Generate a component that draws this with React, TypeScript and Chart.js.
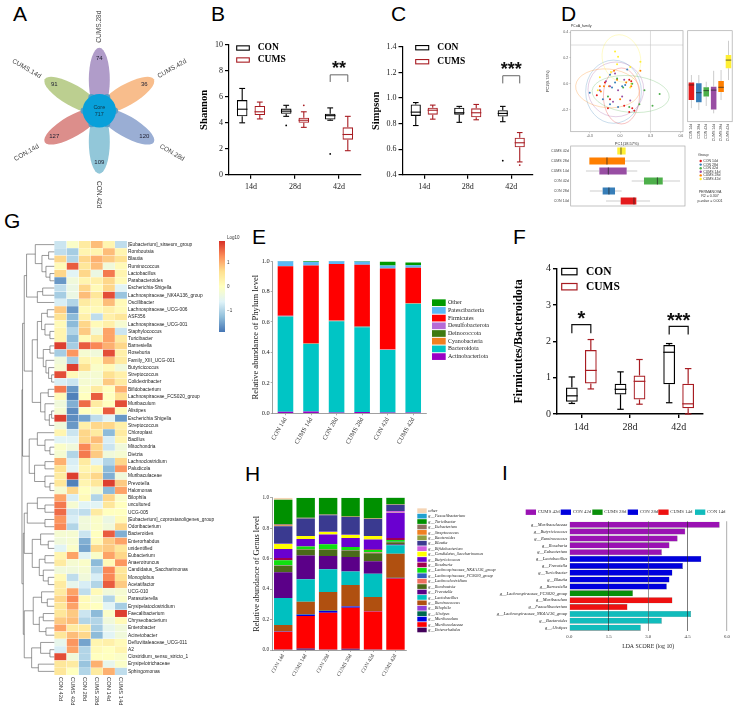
import React, { useEffect, useRef } from 'react';
import Chart from 'chart.js/auto';

/* ---------- data ---------- */
const flowerSets = ['CUMS.28d', 'CUMS.42d', 'CON.28d', 'CON.42d', 'CON.14d', 'CUMS.14d'];
const flowerCounts = [74, 36, 120, 109, 127, 91];
const flowerColors = ['#b09cc9', '#f8bd8c', '#9aaed4', '#92c7d9', '#dc8e8b', '#bccf90'];
const coreCount = 717;

const days = ['14d', '28d', '42d'];
const shannonCon = [[4.0, 4.5, 5.05, 5.75, 6.65], [4.5, 4.7, 4.9, 5.1, 5.35], [4.2, 4.25, 4.55, 4.7, 5.15]];
const shannonCums = [[4.3, 4.6, 4.85, 5.3, 5.6], [3.65, 4.0, 4.2, 4.4, 4.85], [1.85, 2.7, 3.1, 3.65, 4.5]];
const shannonOutCon = [[], [3.8], [1.6]];
const shannonOutCums = [[], [5.35], []];
const simpsonCon = [[.785, .86, .89, .95, .965], [.81, .87, .885, .925, .935], [.815, .855, .88, .905, .935]];
const simpsonCums = [[.835, .87, .905, .925, .945], [.83, .85, .885, .92, .95], [.5, .615, .65, .69, .73]];
const simpsonOutCon = [[], [], [.51]];
const simpsonOutCums = [[], [], [.475]];
const fbCon = [[.29, .34, .5, .73, 1.02], [.13, .54, .68, .83, 1.16], [.31, .82, 1.7, 1.9, 1.94]];
const fbCums = [[.69, .84, 1.2, 1.76, 2.05], [.27, .4, .9, 1.06, 1.5], [0, .16, .28, .83, 1.25]];

const sampleLabels = ['CON 14d', 'CUMS 14d', 'CON 28d', 'CUMS 28d', 'CON 42d', 'CUMS 42d'];
const phylumNames = ['Actinobacteriota', 'Bacteroidota', 'Cyanobacteria', 'Deinococcota', 'Desulfobacterota', 'Firmicutes', 'Patescibacteria', 'Other'];
const phylumColors = ['#9a00c4', '#00c5c5', '#f08020', '#3f7a10', '#b56bd6', '#ff0000', '#5bb8f5', '#009a00'];
const actinobacteriota = [.01, .012, .005, .008, .006, .006];
const bacteroidota = [.625, .443, .6, .557, .409, .714];
const cyanobacteria = [.002, .002, .002, .002, .002, .002];
const deinococcota = [.001, .001, .001, .001, .001, .001];
const desulfobacterota = [.002, .002, .002, .002, .002, .002];
const firmicutes = [.325, .51, .37, .405, .53, .23];
const patescibacteria = [.033, .025, .018, .022, .02, .017];
const otherPhyla = [.002, .005, .002, .003, .025, .018];
const phylumValues = [actinobacteriota, bacteroidota, cyanobacteria, deinococcota, desulfobacterota, firmicutes, patescibacteria, otherPhyla];

const genusNames = ['g__Enterorhabdus', 'g__Muribaculaceae', 'g__Muribaculum', 'g__Alistipes', 'g__Bilophila', 'g__Ruminococcus', 'g__Lactobacillus', 'g__Prevotella', 'g__Romboutsia', 'g__Lachnoclostridium', 'g__Lachnospiraceae_FCS020_group', 'g__Lachnospiraceae_NK4A136_group', 'g__Roseburia', 'g__Butyricicoccus', 'g__Candidatus_Saccharimonas', 'g__Bifidobacterium', 'g__Blautia', 'g__Bacteroides', 'g__Streptococcus', 'g__Eubacterium', 'g__Turicibacter', 'g__Faecalibacterium', 'other'];
const genusColors = ['#44005a', '#ff0000', '#0000e0', '#006a50', '#9040d8', '#b05010', '#00c0c0', '#5b0088', '#4a6a1a', '#f07060', '#3060c0', '#10e010', '#a00050', '#6a00d0', '#ffff00', '#d060e0', '#3a3a90', '#90a040', '#f08020', '#907060', '#009000', '#20a0d0', '#f5d5b5'];
const genusCon14 = [.004, .116, .001, .002, .001, .04, .177, .169, .044, .001, .001, .033, .015, .059, .033, .001, .116, .002, .002, .009, .16, .001, .013];
const genusCums14 = [.01, .213, .008, .003, .002, .081, .147, .157, .039, .001, .001, .018, .002, .047, .019, .001, .115, .001, .001, .002, .13, .001, .001];
const genusCon28 = [.004, .241, .011, .003, .001, .121, .149, .087, .043, .001, .001, .032, .001, .064, .016, .001, .108, .002, .001, .002, .11, .001, .001];
const genusCums28 = [.009, .269, .007, .003, .001, .138, .089, .094, .044, .001, .001, .02, .001, .058, .02, .001, .117, .001, .001, .002, .121, .001, .001];
const genusCon42 = [.004, .248, .002, .001, .001, .092, .153, .081, .053, .006, .001, .014, .006, .064, .022, .001, .111, .002, .001, .002, .133, .001, .001];
const genusCums42 = [.002, .468, .003, .001, .001, .157, .055, .006, .015, .001, .001, .012, .013, .167, .001, .01, .04, .004, .001, .001, .043, .001, .001];
const genusBars = [genusCon14, genusCums14, genusCon28, genusCums28, genusCon42, genusCums42];

const heatColumns = ['CON 42d', 'CUMS 42d', 'CON 28d', 'CUMS 28d', 'CON 14d', 'CUMS 14d'];
const heatGenera = ['[Eubacterium]_siraeum_group', 'Romboutsia', 'Blautia', 'Ruminococcus', 'Lactobacillus', 'Parabacteroides', 'Escherichia-Shigella', 'Lachnospiraceae_NK4A136_group', 'Oscillibacter', 'Lachnospiraceae_UCG-006', 'ASF356', 'Lachnospiraceae_UCG-001', 'Staphylococcus', 'Turicibacter', 'Barnesiella', 'Roseburia', 'Family_XIII_UCG-001', 'Butyricicoccus', 'Streptococcus', 'Colidextribacter', 'Bifidobacterium', 'Lachnospiraceae_FCS020_group', 'Muribaculum', 'Alistipes', 'Escherichia Shigella', 'Streptococcus', 'Chloroplast', 'Bacillus', 'Mitochondria', 'Dietzia', 'Lachnoclostridium', 'Paludicola', 'Muribaculaceae', 'Prevotella', 'Halomonas', 'Bilophila', 'uncultured', 'UCG-005', '[Eubacterium]_coprostanoligenes_group', 'Odoribacterium', 'Bacteroides', 'Enterorhabdus', 'unidentified', 'Eubacterium', 'Anaerotruncus', 'Candidatus_Saccharimonas', 'Monoglobus', 'Acetatifactor', 'UCG-010', 'Parasutterella', 'Erysipelatoclostridium', 'Faecalibacterium', 'Chryseobacterium', 'Enterobacter', 'Acinetobacter', 'Defluviitaleaceae_UCG-011', 'A2', 'Clostridium_sensu_stricto_1', 'Erysipelotrichaceae', 'Sphingomonas'];
const heatValues = [
  [-.8, -.1, .4, .9, .2, -.9], [-.9, -1.1, .2, .2, .9, .2], [.7, -1.0, .7, 1.0, .8, .6], [.1, 1.6, .5, .9, -.3, .1],
  [.7, -.6, .7, -.4, 1.4, .2], [-1.6, -.3, .2, .3, .7, .1], [-.9, -.4, .7, .1, .7, -.6], [-1.1, -.4, .9, .5, 1.7, -1.2],
  [-.7, -1.0, .4, .2, .9, .1], [.8, -1.6, .1, .1, .3, .1], [.6, -1.3, .3, -.9, .3, .5], [.1, -1.3, .7, .1, .3, -.2],
  [.2, -1.0, .8, -.3, 1.1, -.8], [.2, -1.3, .1, .4, 1.1, .4], [1.8, -1.1, 1.6, 1.3, 1.0, .7], [-1.1, 1.2, -.2, -.3, 1.7, .3],
  [-.3, -1.1, .2, .1, .9, .4], [-.2, 1.8, .6, -.1, .1, -.3], [1.7, .1, -.2, -.2, .6, .3], [-.7, -.8, -.2, -.2, .8, .4],
  [1.4, -1.6, -.1, .4, 0, 1.0], [.1, -1.8, 0, 1.6, 0, .6], [-.3, -1.4, 1.5, .4, 0, 1.7], [-.2, -1.7, 0, 0, 1.6, .1],
  [1.8, -1.7, -1.5, -.9, -.6, -1.6], [-.3, -1.6, .3, .7, .7, .3], [.2, -.8, .7, .4, -1.3, .4], [-.6, -.6, .7, .9, -.7, .2],
  [-.1, -.3, 1.3, .7, -.8, -.3], [-.2, -1, 1.4, .8, -.3, -.2], [1.0, -.7, .4, -.6, -1.0, .7], [.6, -.6, .2, .2, -1.3, 1.2],
  [.4, 1.8, .4, .7, -1.4, -.3], [.5, -1.8, .2, .5, 1.8, .8], [-.2, .7, 0, -.2, -1.3, 1.1], [1.1, -.7, .1, -1.0, .7, -.1],
  [1.4, -.2, -.6, -.6, .5, 0], [1.5, -.8, -.9, .4, 0, 0], [1.2, -.7, -.3, -.1, -.4, .1], [1.3, -1.0, -.3, -.1, -.3, .7],
  [-.2, -.2, -.8, 0, 1.6, -1.4], [-.3, -.2, -1.4, .1, .8, 1.1], [-.6, -.1, -1.5, .7, .8, .5], [.2, 1.1, -.6, -.1, 1.1, .7],
  [.4, -.2, -.1, -1.3, .1, 1.2], [-.3, -.3, -.2, -1.0, 1.3, .5], [.1, -.9, -.3, -.7, 1.3, .6], [.4, -.5, -.7, -1.0, 1.6, .8],
  [.4, 1.1, -.9, .1, -.3, -.2], [.7, 1.3, .1, -.2, -1.0, -.1], [.5, 1.1, .1, 0, -.6, -1.1], [.5, .8, -.8, -1.3, -.1, 1.8],
  [.8, .9, -1, -1, -.3, .1], [1.1, .4, .4, -1.1, -.5, -.3], [.5, .9, .7, -1.3, -.6, -.3], [-.5, 1.2, -1.5, .2, .3, .1],
  [-.7, 1.1, -1.0, .1, 0, .2], [1.7, -.3, -1, 0, 0, -.1], [.5, .4, -1.2, 1.0, -.5, -.1], [.5, 0, -1.0, .4, 1.0, -.9],
];
const heatStops = ['#4575b4', '#91bfdb', '#e0f3f8', '#ffffbf', '#fee090', '#fc8d59', '#d73027'];
const heatLimit = 1.9;
// merge tree: [height, left, right]; a number is a row index (1-based)
type Tree = number | [number, Tree, Tree];
const treeTop1: Tree = [2.29, [1.57, 1, [1.02, [.47, 2, 3], [.69, 4, [.36, 5, 6]]]], [1.4, [.96, 7, 8], 9]];
const treeTop2: Tree = [1.82,
  [1.4, [1.05, [.58, 10, 11], [.77, 12, [.36, 13, 14]]], [.91, [.36, 15, 16], [.69, 17, [.47, 18, [.22, 19, 20]]]]],
  [1.13, [.5, 21, 22], [.77, 23, [.41, [.22, 24, 25], 26]]]];
const treeTop3: Tree = [2.07, [1.4, 27, [.77, 28, [.36, 29, 30]]], [1.63, [.77, 31, 32], [.77, 33, [.36, 34, 35]]]];
const treeLow1: Tree = [2.23, [1.4, 36, [.77, 37, 38]], [.77, 39, 40]];
const treeLow2: Tree = [1.82, [1.13, 41, [.5, 42, 43]], [1.24, [.77, 44, 45], [.91, 46, [.5, 47, 48]]]];
const treeLow3: Tree = [2.48, [1.74, [1.05, 49, [.58, 50, 51]], [1.24, [.91, 52, 53], [.69, 54, 55]]], [1.87, [1.13, 56, [.36, 57, 58]], [1.32, 59, 60]]];
const heatTree: Tree = [2.67, [2.62, [2.48, treeTop1, treeTop2], treeTop3], [2.56, [2.48, treeLow1, treeLow2], treeLow3]];

const pcoaGroups = ['CON 14d', 'CON 28d', 'CON 42d', 'CUMS 14d', 'CUMS 28d', 'CUMS 42d'];
const pcoaColors = ['#e41a1c', '#377eb8', '#4daf4a', '#984ea3', '#ff7f00', '#ffef33'];
const pcoaCon14 = [[.09, .03], [.11, .02], [-.23, -.09], [-.1, -.12], [.04, -.17], [.12, -.19], [.09, -.22], [.14, -.21], [-.12, -.19], [-.15, .01]];
const pcoaCon28 = [[-.3, -.07], [-.1, .07], [.07, .11], [-.08, -.03], [.02, -.02], [-.05, .01], [-.17, -.12], [-.1, -.16], [-.02, -.18], [.05, -.01]];
const pcoaCon42 = [[.39, -.08], [.32, -.17], [.24, -.05], [.19, -.16], [.03, -.03], [-.12, -.1], [.12, 0], [.09, -.18], [-.03, .04]];
const pcoaCums14 = [[-.14, .02], [-.02, -.05], [-.05, .08], [.02, -.1], [-.2, -.05], [-.07, -.14], [.04, .03], [-.1, -.02], [.1, -.13]];
const pcoaCums28 = [[-.2, -.02], [-.19, -.06], [-.16, -.02], [-.11, -.02], [-.03, .03], [.06, .01], [.11, -.02], [.2, .1], [-.06, .1], [0, -.12]];
const pcoaCums42 = [[-.05, .25], [-.02, .21], [-.03, .15], [-.2, .05], [-.09, .09], [.1, .13], [.2, .17], [-.22, -.05], [.1, -.03], [.11, 0]];
const pcoaPoints = [pcoaCon14, pcoaCon28, pcoaCon42, pcoaCums14, pcoaCums28, pcoaCums42];
// centre x, centre y, radius x, radius y, tilt
const pcoaEllipses = [[.013, -.095, .178, .217, 0], [-.065, -.062, .275, .245, 0], [.104, -.08, .382, .142, 5], [-.042, -.044, .275, .212, 0], [-.123, -.036, .317, .15, 5], [.013, .196, .188, .186, -15]];
const pc2Box = [[-.19, -.127, -.01, .01, .067], [-.204, -.145, -.07, .003, .067], [-.173, -.10, -.054, -.028, .015], [-.23, -.2, -.05, -.023, .10], [-.127, -.065, -.028, .02, .106], [.028, .119, .183, .222, .333]];
const pc1Box = [[-.145, -.003, .126, .149, .282], [-.302, -.178, -.117, -.058, .006], [.104, .223, .353, .405, .573], [-.34, -.21, -.123, .055, .158], [-.307, -.307, -.136, .039, .282], [-.036, -.036, 0, .045, .045]];
const permanovaLines = ['PERMANOVA', 'R2 = 0.307', 'p-value = 0.001'];

const ldaGenera = ['g__Muribaculaceae', 'g__Butyricicoccus', 'g__Ruminococcus', 'g__Roseburia', 'g__Eubacterium', 'g__Lactobacillus', 'g__Prevotella', 'g__Turicibacter', 'g__Blautia', 'g__Barnesiella', 'g__Lachnospiraceae_FCS020_group', 'g__Muribaculum', 'g__Faecalibacterium', 'g__Lachnospiraceae_NK4A136_group', 'g__Bacteroides', 'g__Alistipes'];
const ldaScores = [5.72, 4.41, 4.12, 3.81, 3.52, 5.02, 4.32, 3.92, 3.81, 3.71, 2.42, 3.92, 2.21, 4.63, 3.52, 2.72];
const ldaGroup = [0, 0, 0, 0, 0, 1, 1, 1, 1, 1, 2, 4, 4, 5, 5, 5];
const ldaGroupNames = ['CUMS 42d', 'CON 42d', 'CUMS 28d', 'CON 28d', 'CUMS 14d', 'CON 14d'];
const ldaGroupColors = ['#9a12b3', '#0000dd', '#0a8f0a', '#0000dd', '#ee1111', '#11bcbc'];

/* ---------- helpers ---------- */
const SERIF = '"Liberation Serif"';
const SANS = '"Liberation Sans"';
const DARKRED = '#a81c22';
const noGrid = { display: false, drawTicks: false };

type Rect = { l: number; t: number; r: number; b: number };
function txt(ctx: any, s: string, x: number, y: number, font: string, color = '#000', align = 'left', rot = 0) {
  ctx.save();
  ctx.translate(x, y);
  ctx.rotate((rot * Math.PI) / 180);
  ctx.font = font;
  ctx.fillStyle = color;
  ctx.textAlign = align;
  ctx.textBaseline = 'middle';
  ctx.fillText(s, 0, 0);
  ctx.restore();
}
const fitW = (w: number) => (s: any) => { s.width = w; };
const fitH = (h: number) => (s: any) => { s.height = h; };
const baseOpts = (frame: Rect, plot: Rect, pad: any) => ({
  responsive: false,
  maintainAspectRatio: false,
  animation: false,
  events: [],
  layout: { padding: { left: pad.left ? plot.l - frame.l : 0, right: pad.right ? frame.r - plot.r : 0, top: plot.t - frame.t, bottom: pad.bottom ? frame.b - plot.b : 0 } },
  plugins: { legend: { display: false }, tooltip: { enabled: false } },
});
const f = (size: number, family: string, extra: any = {}) => ({ size, family, ...extra });

function hexMix(a: string, b: string, t: number) {
  const p = (h: string, i: number) => parseInt(h.slice(i, i + 2), 16);
  const c = [1, 3, 5].map((i) => Math.round(p(a, i) + (p(b, i) - p(a, i)) * t));
  return `rgb(${c[0]},${c[1]},${c[2]})`;
}
function heatColor(v: number) {
  const u = ((Math.max(-heatLimit, Math.min(heatLimit, v)) + heatLimit) / (2 * heatLimit)) * (heatStops.length - 1);
  const i = Math.min(heatStops.length - 2, Math.floor(u));
  return hexMix(heatStops[i], heatStops[i + 1], u - i);
}

/* draws whiskers, medians and outliers on top of floating bars */
function whiskerPlugin(stats: number[][][], outliers: number[][][] | null, colors: (d: number, i: number) => string, opts: any = {}) {
  const horizontal = !!opts.horizontal;
  const lw = opts.lw ?? 1.2;
  return {
    id: 'whiskers',
    afterDatasetsDraw(chart: any) {
      const ctx = chart.ctx;
      const val = horizontal ? chart.scales.x : chart.scales.y;
      stats.forEach((rows, d) => {
        const meta = chart.getDatasetMeta(d);
        rows.forEach((st, i) => {
          const bar = meta.data[i];
          const c = horizontal ? bar.y : bar.x;
          const half = (horizontal ? bar.height : bar.width) / 2;
          const cap = half * (opts.cap ?? 0.55);
          ctx.save();
          ctx.strokeStyle = colors(d, i);
          ctx.lineWidth = lw;
          const seg = (v1: number, w1: number, v2: number, w2: number) => {
            ctx.beginPath();
            if (horizontal) { ctx.moveTo(val.getPixelForValue(v1), c + w1); ctx.lineTo(val.getPixelForValue(v2), c + w2); }
            else { ctx.moveTo(c + w1, val.getPixelForValue(v1)); ctx.lineTo(c + w2, val.getPixelForValue(v2)); }
            ctx.stroke();
          };
          seg(st[0], 0, st[1], 0);
          seg(st[3], 0, st[4], 0);
          if (cap > 0) { seg(st[0], -cap, st[0], cap); seg(st[4], -cap, st[4], cap); }
          ctx.strokeStyle = opts.median ?? colors(d, i);
          ctx.lineWidth = opts.medianWidth ?? lw;
          seg(st[2], -half, st[2], half);
          if (outliers) {
            ctx.fillStyle = colors(d, i);
            outliers[d][i].forEach((o) => {
              ctx.beginPath();
              ctx.arc(c, val.getPixelForValue(o), 0.9, 0, Math.PI * 2);
              ctx.fill();
            });
          }
          ctx.restore();
        });
      });
    },
  };
}

/* two-group box chart used by panels B, C and F */
function groupBox(frame: Rect, plot: Rect, o: any) {
  const fl = (rows: number[][]) => rows.map((s) => [s[1], s[3]]);
  const colour = (d: number) => (d === 0 ? '#000' : DARKRED);
  const overlay = {
    id: 'overlay',
    afterDraw(chart: any) {
      const ctx = chart.ctx;
      const y = chart.scales.y;
      const ox = frame.l;
      const oy = frame.t;
      const L = o.legend;
      ['CON', 'CUMS'].forEach((name, k) => {
        ctx.strokeStyle = colour(k);
        ctx.lineWidth = o.lw;
        ctx.strokeRect(L.x - ox, L.ys[k] - L.h / 2 - oy, L.w, L.h);
        txt(ctx, name, L.tx - ox, L.ys[k] - oy, `bold ${L.font}px ${SERIF}`);
      });
      o.brackets.forEach((b: any) => {
        const x1 = chart.getDatasetMeta(0).data[b.cat].x;
        const x2 = chart.getDatasetMeta(1).data[b.cat].x;
        ctx.strokeStyle = b.color;
        ctx.lineWidth = b.lw;
        ctx.beginPath();
        ctx.moveTo(x1, y.getPixelForValue(b.leg));
        ctx.lineTo(x1, y.getPixelForValue(b.top));
        ctx.lineTo(x2, y.getPixelForValue(b.top));
        ctx.lineTo(x2, y.getPixelForValue(b.leg));
        ctx.stroke();
        txt(ctx, b.stars, (x1 + x2) / 2, y.getPixelForValue(b.star) + b.size * 0.2, `bold ${b.size}px ${SANS}`, '#111', 'center');
      });
    },
  };
  return {
    type: 'bar',
    data: {
      labels: days,
      datasets: [
        { label: 'CON', data: fl(o.con), borderColor: '#000', backgroundColor: 'rgba(0,0,0,0)', borderWidth: o.lw, borderSkipped: false, categoryPercentage: o.catPct, barPercentage: o.barPct },
        { label: 'CUMS', data: fl(o.cums), borderColor: DARKRED, backgroundColor: 'rgba(0,0,0,0)', borderWidth: o.lw, borderSkipped: false, categoryPercentage: o.catPct, barPercentage: o.barPct },
      ],
    },
    options: {
      ...baseOpts(frame, plot, { right: true }),
      scales: {
        x: {
          afterFit: fitH(frame.b - plot.b),
          grid: { drawOnChartArea: false, offset: false, tickLength: o.tick, color: '#000', lineWidth: o.axisW },
          border: { color: '#000', width: o.axisW },
          ticks: { font: f(o.tickFont, SERIF), color: '#222', padding: o.xPad ?? 3 },
        },
        y: {
          min: o.min, max: o.max,
          afterFit: fitW(plot.l - frame.l),
          grid: { drawOnChartArea: false, tickLength: o.tick, color: '#000', lineWidth: o.axisW },
          border: { color: '#000', width: o.axisW },
          ticks: { stepSize: o.step, font: f(o.tickFont, SERIF), color: '#222', padding: 2, callback: o.fmt },
          title: { display: true, text: o.title, font: f(o.titleFont, SERIF, { weight: 'bold' }), color: '#000', padding: 0 },
        },
      },
    },
    plugins: [whiskerPlugin([o.con, o.cums], o.outCon ? [o.outCon, o.outCums] : null, colour, { lw: o.lw }), overlay],
  };
}

function stackBar(frame: Rect, plot: Rect, o: any) {
  const legend = {
    id: 'sideLegend',
    afterDraw(chart: any) {
      const ctx = chart.ctx;
      const n = o.names.length;
      o.names.forEach((name: string, i: number) => {
        const rowY = o.legY + (n - 1 - i) * o.legStep - frame.t;
        ctx.fillStyle = o.colors[i];
        ctx.fillRect(o.legX - frame.l, rowY - o.swH / 2, o.swW, o.swH);
        txt(ctx, name, o.legTx - frame.l, rowY, o.legFont, '#222');
      });
    },
  };
  return {
    type: 'bar',
    data: {
      labels: sampleLabels,
      datasets: o.names.map((name: string, i: number) => ({
        label: name, data: o.values[i], backgroundColor: o.colors[i], borderWidth: 0, categoryPercentage: 1, barPercentage: o.barPct,
      })),
    },
    options: {
      ...baseOpts(frame, plot, { right: true }),
      scales: {
        x: {
          stacked: true,
          afterFit: fitH(frame.b - plot.b),
          grid: { drawOnChartArea: false, offset: false, tickLength: 2, color: '#777', lineWidth: .6 },
          border: { color: '#777', width: .7 },
          ticks: { font: f(o.xFont, SERIF), color: '#333', minRotation: 60, maxRotation: 60, autoSkip: false, padding: 1 },
        },
        y: {
          stacked: true, min: 0, max: 1,
          afterFit: fitW(plot.l - frame.l),
          grid: { drawOnChartArea: false, tickLength: 2, color: '#777', lineWidth: .6 },
          border: { color: '#777', width: .7 },
          ticks: { stepSize: .2, font: f(o.yFont, SERIF), color: '#222', padding: 1, callback: (v: any) => Number(v).toFixed(1) },
          title: { display: true, text: o.title, font: f(o.titleFont, SERIF), color: '#111', padding: 0 },
        },
      },
    },
    plugins: [legend],
  };
}

/* ---------- panels ---------- */
function flowerPanel() {
  const frame = { l: 0, t: 0, r: 205, b: 210 };
  const petalReach = 31;
  const angle = (i: number) => (i * 60 * Math.PI) / 180;
  const plugin = {
    id: 'flower',
    beforeDatasetsDraw(chart: any) {
      const { ctx, scales: { x, y } } = chart;
      const X = (v: number) => x.getPixelForValue(v);
      const Y = (v: number) => y.getPixelForValue(v);
      flowerSets.forEach((_, i) => {
        const a = angle(i);
        ctx.save();
        ctx.translate(X(petalReach * Math.sin(a)), Y(petalReach * Math.cos(a)));
        ctx.rotate(a);
        ctx.fillStyle = flowerColors[i];
        ctx.beginPath();
        ctx.ellipse(0, 0, 10.5, petalReach + 1, 0, 0, Math.PI * 2);
        ctx.fill();
        ctx.restore();
      });
      flowerSets.forEach((_, i) => {
        const a = angle(i) + Math.PI / 6;
        ctx.fillStyle = '#5a9cc4';
        ctx.beginPath();
        ctx.arc(X(15.5 * Math.sin(a)), Y(15.5 * Math.cos(a)), 3.2, 0, Math.PI * 2);
        ctx.fill();
      });
      ctx.fillStyle = '#08a0da';
      ctx.beginPath();
      ctx.arc(X(0), Y(0), 16.7, 0, Math.PI * 2);
      ctx.fill();
    },
    afterDraw(chart: any) {
      const { ctx, scales: { x, y } } = chart;
      const X = (v: number) => x.getPixelForValue(v);
      const Y = (v: number) => y.getPixelForValue(v);
      flowerSets.forEach((name, i) => {
        const a = angle(i);
        txt(ctx, String(flowerCounts[i]), X(52 * Math.sin(a)), Y(52 * Math.cos(a)), `6px ${SANS}`, '#223', 'center');
        const rot = [-90, -30, 30, 90, -30, 30][i];
        txt(ctx, name, X(84 * Math.sin(a)), Y(84 * Math.cos(a)), `6.6px ${SANS}`, '#444', 'center', rot);
      });
      txt(ctx, 'Core', X(0), Y(3.5), `5.4px ${SANS}`, '#134', 'center');
      txt(ctx, String(coreCount), X(0), Y(-3.5), `5.4px ${SANS}`, '#134', 'center');
    },
  };
  return {
    frame,
    config: {
      type: 'scatter',
      data: { datasets: [{ data: flowerCounts.map((_, i) => ({ x: 52 * Math.sin(angle(i)), y: 52 * Math.cos(angle(i)) })), pointRadius: 0 }] },
      options: {
        ...baseOpts(frame, frame, {}),
        scales: { x: { display: false, min: -99.3, max: 105.7 }, y: { display: false, min: -99.3, max: 110.7 } },
      },
      plugins: [plugin],
    },
  };
}

function heatPanel() {
  const frame = { l: 20, t: 233, r: 218, b: 709 };
  const plot = { l: 21.6, t: 241, r: 127, b: 675 };
  const plugin = {
    id: 'dendro',
    afterDraw(chart: any) {
      const { ctx, scales: { x, y } } = chart;
      ctx.strokeStyle = '#555';
      ctx.lineWidth = .6;
      const walk = (n: Tree): [number, number] => {
        if (typeof n === 'number') return [0, y.getPixelForValue(n - 1)];
        const [hA, yA] = walk(n[1]);
        const [hB, yB] = walk(n[2]);
        const h = n[0];
        ctx.beginPath();
        ctx.moveTo(x.getPixelForValue(-hA), yA);
        ctx.lineTo(x.getPixelForValue(-h), yA);
        ctx.lineTo(x.getPixelForValue(-h), yB);
        ctx.lineTo(x.getPixelForValue(-hB), yB);
        ctx.stroke();
        return [h, (yA + yB) / 2];
      };
      walk(heatTree);
      heatColumns.forEach((name, i) => {
        ctx.save();
        ctx.translate(x.getPixelForValue(i + .5), plot.b + 2 - frame.t);
        ctx.rotate(Math.PI / 2);
        ctx.font = `5.8px ${SANS}`;
        ctx.fillStyle = '#333';
        ctx.textAlign = 'left';
        ctx.textBaseline = 'middle';
        ctx.fillText(name, 0, 0);
        ctx.restore();
      });
    },
  };
  return {
    frame,
    config: {
      type: 'bar',
      data: {
        labels: heatGenera,
        datasets: heatColumns.map((name, c) => ({
          label: name,
          data: heatGenera.map(() => 1),
          backgroundColor: heatValues.map((row) => heatColor(row[c])),
          borderColor: 'rgba(255,255,255,.55)',
          borderWidth: .4,
          borderSkipped: false,
          categoryPercentage: 1,
          barPercentage: 1,
        })),
      },
      options: {
        ...baseOpts(frame, plot, { left: true, bottom: true }),
        indexAxis: 'y',
        scales: {
          x: { stacked: true, display: false, min: -2.7, max: 6 },
          y: {
            stacked: true, position: 'right',
            afterFit: fitW(frame.r - plot.r),
            grid: noGrid, border: { display: false },
            ticks: { autoSkip: false, font: f(4.8, SANS), color: '#222', padding: 1 },
          },
        },
      },
      plugins: [plugin],
    },
  };
}

function colourBarPanel() {
  const frame = { l: 215, t: 232, r: 245, b: 338 };
  const plot = { l: 219, t: 241, r: 225, b: 332 };
  const plugin = { id: 'barTitle', afterDraw(c: any) { txt(c.ctx, 'Log10', 227 - frame.l, 238 - frame.t, `4.5px ${SANS}`, '#333'); } };
  return {
    frame,
    config: {
      type: 'bar',
      data: {
        labels: ['Log10'],
        datasets: [{
          data: [[-heatLimit, heatLimit]],
          categoryPercentage: 1, barPercentage: 1, borderWidth: 0,
          backgroundColor: (ctx: any) => {
            const area = ctx.chart.chartArea;
            if (!area) return heatStops[3];
            const g = ctx.chart.ctx.createLinearGradient(0, area.bottom, 0, area.top);
            heatStops.forEach((c, i) => g.addColorStop(i / (heatStops.length - 1), c));
            return g;
          },
        }],
      },
      options: {
        ...baseOpts(frame, plot, { left: true, bottom: true }),
        scales: {
          x: { display: false },
          y: {
            position: 'right', min: -heatLimit, max: heatLimit,
            afterFit: fitW(frame.r - plot.r),
            afterBuildTicks: (s: any) => { s.ticks = [1, 0, -1].map((value) => ({ value })); },
            grid: noGrid, border: { display: false },
            ticks: { font: f(4.5, SANS), color: '#333', padding: 2, callback: (v: any) => (v < 0 ? '\u2212' + Math.abs(v) : String(v)) },
          },
        },
      },
      plugins: [plugin],
    },
  };
}

function pcoaPanel() {
  const frame = { l: 545, t: 20, r: 687, b: 146 };
  const plot = { l: 570.7, t: 30.7, r: 685, b: 131.7 };
  const plugin = {
    id: 'pcoaDecor',
    beforeDatasetsDraw(chart: any) {
      const { ctx, chartArea: a, scales: { x, y } } = chart;
      ctx.save();
      ctx.beginPath();
      ctx.rect(a.left, a.top, a.width, a.height);
      ctx.clip();
      ctx.strokeStyle = '#c8c8c8';
      ctx.lineWidth = .6;
      ctx.beginPath();
      ctx.moveTo(x.getPixelForValue(.3), a.top); ctx.lineTo(x.getPixelForValue(.3), a.bottom);
      ctx.moveTo(a.left, y.getPixelForValue(.3)); ctx.lineTo(a.right, y.getPixelForValue(.3));
      ctx.stroke();
      pcoaEllipses.forEach((e, i) => {
        ctx.strokeStyle = pcoaColors[i];
        ctx.globalAlpha = .45;
        ctx.lineWidth = .6;
        ctx.beginPath();
        ctx.ellipse(x.getPixelForValue(e[0]), y.getPixelForValue(e[1]), x.getPixelForValue(e[2]) - x.getPixelForValue(0), y.getPixelForValue(0) - y.getPixelForValue(e[3]), (e[4] * Math.PI) / 180, 0, Math.PI * 2);
        ctx.stroke();
      });
      ctx.restore();
      ctx.strokeStyle = '#aaa';
      ctx.lineWidth = .7;
      ctx.strokeRect(a.left, a.top, a.width, a.height);
      txt(ctx, 'PCoA_family', a.left + 0, a.top - 5, `3.6px ${SANS}`, '#333');
    },
  };
  return {
    frame,
    config: {
      type: 'scatter',
      data: {
        datasets: pcoaGroups.map((name, i) => ({
          label: name,
          data: pcoaPoints[i].map((p) => ({ x: p[0], y: p[1] })),
          backgroundColor: pcoaColors[i],
          borderWidth: 0,
          pointRadius: 1,
        })),
      },
      options: {
        ...baseOpts(frame, plot, { right: true }),
        scales: {
          x: {
            min: -.488, max: .621,
            afterFit: fitH(frame.b - plot.b),
            afterBuildTicks: (s: any) => { s.ticks = [-.3, 0, .3, .6].map((value) => ({ value })); },
            grid: { drawOnChartArea: false, tickLength: 1.5, color: '#999', lineWidth: .4 },
            border: { display: false },
            ticks: { font: f(3.6, SANS), color: '#555', padding: 1, callback: (v: any) => Number(v).toFixed(1) },
            title: { display: true, text: 'PC1(18.57%)', font: f(4, SANS), color: '#333', padding: 0 },
          },
          y: {
            min: -.372, max: .411,
            afterFit: fitW(plot.l - frame.l),
            afterBuildTicks: (s: any) => { s.ticks = [-.2, 0, .2, .4].map((value) => ({ value })); },
            grid: { drawOnChartArea: false, tickLength: 1.5, color: '#999', lineWidth: .4 },
            border: { display: false },
            ticks: { font: f(3.6, SANS), color: '#555', padding: 1, callback: (v: any) => Number(v).toFixed(1) },
            title: { display: true, text: 'PC2(9.74%)', font: f(4, SANS), color: '#333', padding: 0 },
          },
        },
      },
      plugins: [plugin],
    },
  };
}

const framePlugin = {
  id: 'boxFrame',
  beforeDatasetsDraw(chart: any) {
    const { ctx, chartArea: a } = chart;
    ctx.strokeStyle = '#aaa';
    ctx.lineWidth = .7;
    ctx.strokeRect(a.left, a.top, a.width, a.height);
  },
};

function pc2Panel() {
  const frame = { l: 686, t: 22, r: 735, b: 142 };
  const plot = { l: 687.7, t: 30.7, r: 732.7, b: 121.7 };
  return {
    frame,
    config: {
      type: 'bar',
      data: {
        labels: pcoaGroups,
        datasets: [{ data: pc2Box.map((s) => [s[1], s[3]]), backgroundColor: pcoaColors, borderWidth: 0, categoryPercentage: 1, barPercentage: .75 }],
      },
      options: {
        ...baseOpts(frame, plot, { left: true, right: true }),
        scales: {
          x: {
            afterFit: fitH(frame.b - plot.b),
            grid: noGrid, border: { display: false },
            ticks: { font: f(3.6, SANS), color: '#444', minRotation: 90, maxRotation: 90, autoSkip: false, padding: 2 },
          },
          y: { display: false, min: -.295, max: .411 },
        },
      },
      plugins: [framePlugin, whiskerPlugin([pc2Box], null, () => '#999', { lw: .5, cap: 0, median: '#222', medianWidth: .7 })],
    },
  };
}

function pc1Panel() {
  const frame = { l: 540, t: 140, r: 735, b: 212 };
  const plot = { l: 570.7, t: 146, r: 685, b: 206 };
  const order = [5, 4, 3, 2, 1, 0];
  const legend = {
    id: 'groupLegend',
    afterDraw(chart: any) {
      const ctx = chart.ctx;
      const ox = frame.l;
      const oy = frame.t;
      txt(ctx, 'Group', 698 - ox, 155 - oy, `3.8px ${SANS}`, '#333');
      pcoaGroups.forEach((name, i) => {
        const yy = 161 + i * 3.6 - oy;
        ctx.fillStyle = pcoaColors[i];
        ctx.beginPath();
        ctx.arc(700.7 - ox, yy, 1.2, 0, Math.PI * 2);
        ctx.fill();
        txt(ctx, name, 703.3 - ox, yy, `3.5px ${SANS}`, '#333');
      });
      permanovaLines.forEach((line, i) => txt(ctx, line, 710 - ox, 191.7 + i * 4.6 - oy, `3.6px ${SANS}`, '#333', 'center'));
    },
  };
  return {
    frame,
    config: {
      type: 'bar',
      data: {
        labels: order.map((i) => pcoaGroups[i]),
        datasets: [{ data: order.map((i) => [pc1Box[i][1], pc1Box[i][3]]), backgroundColor: order.map((i) => pcoaColors[i]), borderWidth: 0, categoryPercentage: 1, barPercentage: .72 }],
      },
      options: {
        ...baseOpts(frame, plot, { right: true, bottom: true }),
        indexAxis: 'y',
        scales: {
          x: { display: false, min: -.488, max: .621 },
          y: {
            afterFit: fitW(plot.l - frame.l),
            grid: noGrid, border: { display: false },
            ticks: { font: f(3.6, SANS), color: '#444', autoSkip: false, padding: 2 },
          },
        },
      },
      plugins: [framePlugin, whiskerPlugin([order.map((i) => pc1Box[i])], null, () => '#999', { lw: .5, cap: 0, median: '#222', medianWidth: .7, horizontal: true }), legend],
    },
  };
}

function ldaPanel() {
  const frame = { l: 490, t: 505, r: 735, b: 650 };
  const plot = { l: 569.3, t: 521.3, r: 727, b: 631.1 };
  const swatches = [[525.7, 538], [560.7, 573], [592.3, 605], [627.7, 639], [658.3, 670.7], [695, 707]];
  const legend = {
    id: 'ldaLegend',
    afterDraw(chart: any) {
      const ctx = chart.ctx;
      ldaGroupNames.forEach((name, i) => {
        ctx.fillStyle = ldaGroupColors[i];
        ctx.fillRect(swatches[i][0] - frame.l, 512.2 - 2.7 - frame.t, 10.3, 5.4);
        txt(ctx, name, swatches[i][0] + 12 - frame.l, 512 - frame.t, `4.8px ${SERIF}`, '#333');
      });
    },
  };
  return {
    frame,
    config: {
      type: 'bar',
      data: {
        labels: ldaGenera,
        datasets: [{
          data: ldaScores,
          backgroundColor: ldaGroup.map((g) => ldaGroupColors[g]),
          borderColor: '#222', borderWidth: .3, borderSkipped: false, categoryPercentage: 1, barPercentage: .87,
        }],
      },
      options: {
        ...baseOpts(frame, plot, { right: true }),
        indexAxis: 'y',
        scales: {
          x: {
            min: 0, max: 6,
            afterFit: fitH(frame.b - plot.b),
            grid: {
              z: 1, drawTicks: false,
              color: (c: any) => { const v = c.tick ? c.tick.value : 0; return v === 1.5 || v === 4.5 ? '#222' : v === 0 ? 'rgba(0,0,0,0)' : v === 3 ? '#555' : '#bbb'; },
              lineWidth: (c: any) => (c.tick && c.tick.value === 6 ? 1.2 : .6),
            },
            border: { display: false },
            ticks: { stepSize: 1.5, font: f(4.8, SERIF), color: '#333', padding: 3, callback: (v: any) => Number(v).toFixed(1) },
            title: { display: true, text: 'LDA SCORE (log 10)', font: f(5.8, SERIF), color: '#222', padding: { top: 2, bottom: 0 } },
          },
          y: {
            afterFit: fitW(plot.l - frame.l),
            grid: noGrid, border: { display: false },
            ticks: { autoSkip: false, font: f(4.5, SERIF, { style: 'italic' }), color: '#222', padding: 2 },
          },
        },
      },
      plugins: [legend],
    },
  };
}

function panelB() {
  const frame = { l: 198, t: 32, r: 368, b: 196 };
  const plot = { l: 229, t: 45, r: 361, b: 174.7 };
  return {
    frame,
    config: groupBox(frame, plot, {
      con: shannonCon, cums: shannonCums, outCon: shannonOutCon, outCums: shannonOutCums,
      min: 0, max: 10, step: 2, title: 'Shannon', titleFont: 10.6, tickFont: 8, tick: 4, lw: 1.1, axisW: 1.2,
      catPct: .8, barPct: .6,
      legend: { x: 236.7, w: 12.6, h: 4.3, ys: [48, 60], tx: 257.7, font: 9.5 },
      brackets: [{ cat: 2, top: 7.7, leg: 7.15, star: 8.4, stars: '**', size: 18, color: '#666', lw: 1 }],
    }),
  };
}
function panelC() {
  const frame = { l: 370, t: 34, r: 540, b: 196 };
  const plot = { l: 402.5, t: 47, r: 533, b: 174.7 };
  return {
    frame,
    config: groupBox(frame, plot, {
      con: simpsonCon, cums: simpsonCums, outCon: simpsonOutCon, outCums: simpsonOutCums,
      min: .4, max: 1.4, step: .2, title: 'Simpson', titleFont: 10.4, tickFont: 8, tick: 4, lw: 1.1, axisW: 1.2,
      catPct: .78, barPct: .6, fmt: (v: any) => Number(v).toFixed(1),
      legend: { x: 415.7, w: 13, h: 4.3, ys: [47.7, 61.7], tx: 437.3, font: 9.5 },
      brackets: [{ cat: 2, top: 1.175, leg: 1.115, star: 1.245, stars: '***', size: 18, color: '#666', lw: 1 }],
    }),
  };
}
function panelF() {
  const frame = { l: 512, t: 258, r: 712, b: 436 };
  const plot = { l: 557, t: 268.7, r: 703, b: 414 };
  return {
    frame,
    config: groupBox(frame, plot, {
      con: fbCon, cums: fbCums,
      min: 0, max: 4, step: 1, title: 'Firmicutes/Bacteroidota', titleFont: 12, tickFont: 10, tick: 4, lw: 1.2, axisW: 1.4,
      catPct: .78, barPct: .62,
      legend: { x: 561.7, w: 15.3, h: 6.4, ys: [271.6, 286.7], tx: 586, font: 11.5 },
      brackets: [
        { cat: 0, top: 2.46, leg: 2.22, star: 2.7, stars: '*', size: 20, color: '#111', lw: 1.2 },
        { cat: 2, top: 2.41, leg: 2.19, star: 2.66, stars: '***', size: 20, color: '#111', lw: 1.2 },
      ],
    }),
  };
}
function panelE() {
  const frame = { l: 251, t: 250, r: 495, b: 450 };
  const plot = { l: 272.7, t: 261, r: 426, b: 413.3 };
  return {
    frame,
    config: stackBar(frame, plot, {
      names: phylumNames, colors: phylumColors, values: phylumValues, barPct: .61,
      title: 'Relative abundance of Phylum level', titleFont: 8.6, xFont: 6.4, yFont: 6.4,
      legX: 432, legTx: 448, legY: 302.7, legStep: 7.7, swW: 13.7, swH: 6.7, legFont: `6px ${SERIF}`,
    }),
  };
}
function panelH() {
  const frame = { l: 252, t: 488, r: 497, b: 692 };
  const plot = { l: 272, t: 497.7, r: 406.7, b: 650 };
  return {
    frame,
    config: stackBar(frame, plot, {
      names: genusNames, colors: genusColors, values: genusNames.map((_, g) => genusBars.map((b) => b[g])), barPct: .82,
      title: 'Relative abundance of Genus level', titleFont: 8.3, xFont: 5.4, yFont: 5.2,
      legX: 417.3, legTx: 428.3, legY: 510.7, legStep: 5.42, swW: 9.4, swH: 4.7, legFont: `italic 4.3px ${SERIF}`,
    }),
  };
}

const letters: [string, number, number][] = [['A', 13, 21], ['B', 211, 21], ['C', 391, 21], ['D', 561, 21], ['G', 4, 228], ['E', 252, 244], ['F', 513, 244], ['H', 245, 481], ['I', 502, 480]];

export default function App() {
  const holder = useRef<HTMLDivElement>(null);
  useEffect(() => {
    const panels = [flowerPanel(), panelB(), panelC(), pcoaPanel(), pc2Panel(), pc1Panel(), heatPanel(), colourBarPanel(), panelE(), panelF(), panelH(), ldaPanel()];
    const charts = panels.map((p) => {
      const c = document.createElement('canvas');
      c.width = p.frame.r - p.frame.l;
      c.height = p.frame.b - p.frame.t;
      c.style.position = 'absolute';
      c.style.left = `${p.frame.l}px`;
      c.style.top = `${p.frame.t}px`;
      holder.current!.appendChild(c);
      return { chart: new Chart(c, p.config as any), c };
    });
    return () => charts.forEach(({ chart, c }) => { chart.destroy(); c.remove(); });
  }, []);
  return (
    <div ref={holder} style={{ position: 'absolute', left: 0, top: 0, width: 735, height: 709, overflow: 'hidden', background: '#fff' }}>
      {letters.map(([s, x, base]) => (
        <div key={s} style={{ position: 'absolute', left: x, top: base - 17.8, fontFamily: SANS, fontSize: 21, lineHeight: 1, color: '#000' }}>{s}</div>
      ))}
    </div>
  );
}
